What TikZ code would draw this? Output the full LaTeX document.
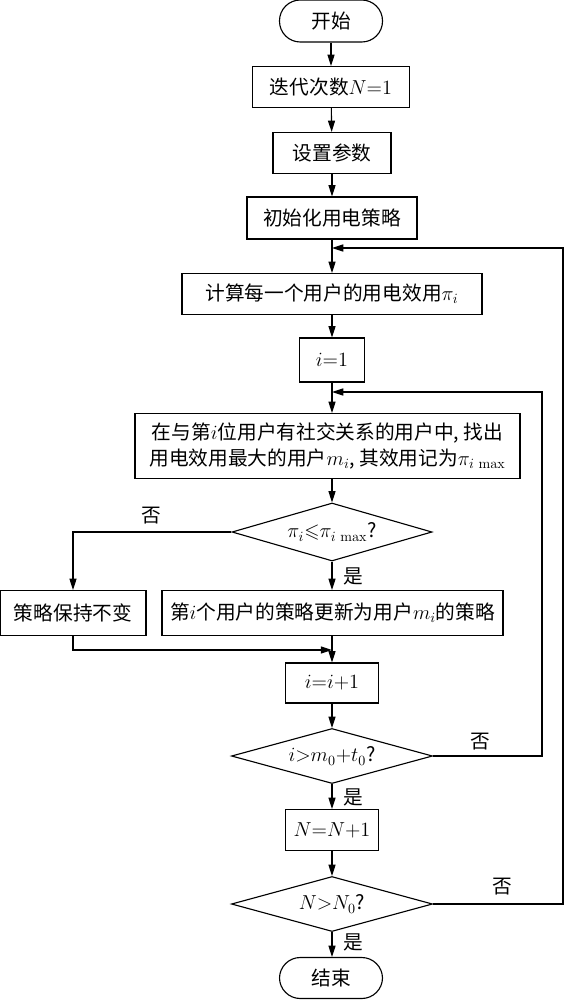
\documentclass[tikz,border=0pt]{standalone}
\usepackage[no-math]{fontspec}
\usepackage{amsmath,amssymb}
\setmainfont{Noto Sans CJK SC}
\usetikzlibrary{shapes.geometric,arrows.meta}

\tikzset{
  box/.style={draw, line width=0.8pt, align=center, inner sep=2pt},
  term/.style={box, rounded corners=0.52cm},
  decision/.style={draw, line width=0.8pt, diamond, aspect=3.6, inner sep=0pt},
  flow/.style={->, line width=0.8pt},
  answer/.style={inner sep=0pt}
}

\begin{document}
\begin{tikzpicture}[x=0.025cm, y=-0.025cm, >={Triangle[length=8pt,width=5pt]}]
  \fontsize{14}{18}\selectfont
  \useasboundingbox (0,0) rectangle (565,1000);
  % main column
  \node[term, minimum width=2.575cm, minimum height=1.05cm] (start) at (331,21) {开始};
  \node[box, minimum width=3.925cm, minimum height=1.025cm] (iter) at (331,87) {迭代次数$N{=}1$};
  \node[box, minimum width=2.95cm, minimum height=1.025cm] (param) at (332,153) {设置参数};
  \node[box, minimum width=4.25cm, minimum height=1.05cm] (init) at (332,218) {初始化用电策略};
  \node[box, minimum width=7.5cm, minimum height=1.025cm] (util) at (332,294) {计算每一个用户的用电效用$\pi_i$};
  \node[box, minimum width=1.625cm, minimum height=1.1cm] (ione) at (332,360) {$i{=}1$};
  \node[box, minimum width=9.625cm, minimum height=1.625cm] (find) at (327.5,446)
    {在与第$i$位用户有社交关系的用户中, 找出\\用电效用最大的用户$m_i$, 其效用记为$\pi_{i\,\max}$};
  \node[decision, minimum width=5cm, minimum height=1.45cm] (cmp) at (332,532) {$\pi_i{\leqslant}\pi_{i\,\max}$?};
  \node[box, minimum width=3.65cm, minimum height=1.125cm] (keep) at (73,613) {策略保持不变};
  \node[box, minimum width=8.525cm, minimum height=1.125cm] (upd) at (332.5,613) {第$i$个用户的策略更新为用户$m_i$的策略};
  \node[box, minimum width=2.325cm, minimum height=1.0cm] (inc) at (332,683) {$i{=}i{+}1$};
  \node[decision, minimum width=5.025cm, minimum height=1.375cm] (ichk) at (332,756) {$i{>}m_0{+}t_0$?};
  \node[box, minimum width=2.325cm, minimum height=1.025cm] (ninc) at (332,830) {$N{=}N{+}1$};
  \node[decision, minimum width=5.025cm, minimum height=1.375cm] (nchk) at (332,904) {$N{>}N_0$?};
  \node[term, minimum width=2.575cm, minimum height=1.025cm] (stop) at (331,978) {结束};

  % yes / no labels
  \node[answer] (no1) at (151,516) {否};
  \node[answer] (yes1) at (353,576) {是};
  \node[answer] (no2) at (480,742) {否};
  \node[answer] (yes2) at (353,797) {是};
  \node[answer] (no3) at (502,887) {否};
  \node[answer] (yes3) at (353,942) {是};

  % loop corners
  \coordinate (merge) at (332,650);
  \coordinate (iloop) at (542,392);
  \coordinate (nloop) at (563,248);

  \draw[flow] (start) -- (iter);
  \draw[flow] (iter) -- (param);
  \draw[flow] (param) -- (init);
  \draw[flow] (init) -- (util);
  \draw[flow] (util) -- (ione);
  \draw[flow] (ione.south) -- (find.north -| ione.south);
  \draw[flow] (find.south -| cmp.north) -- (cmp.north);
  \draw[flow] (cmp.south) -- (upd.north -| cmp.south);
  \draw[flow] (cmp.west) -| (keep.north);
  \draw[flow] (keep.south) |- (merge);
  \draw[flow] (upd.south -| inc.north) -- (inc.north);
  \draw[flow] (inc) -- (ichk);
  \draw[flow] (ichk) -- (ninc);
  \draw[flow] (ichk.east) -| (iloop) -- (iloop -| ione.south);
  \draw[flow] (ninc) -- (nchk);
  \draw[flow] (nchk) -- (stop.north -| nchk.south);
  \draw[flow] (nchk.east) -| (nloop) -- (nloop -| init.south);
\end{tikzpicture}
\end{document}
